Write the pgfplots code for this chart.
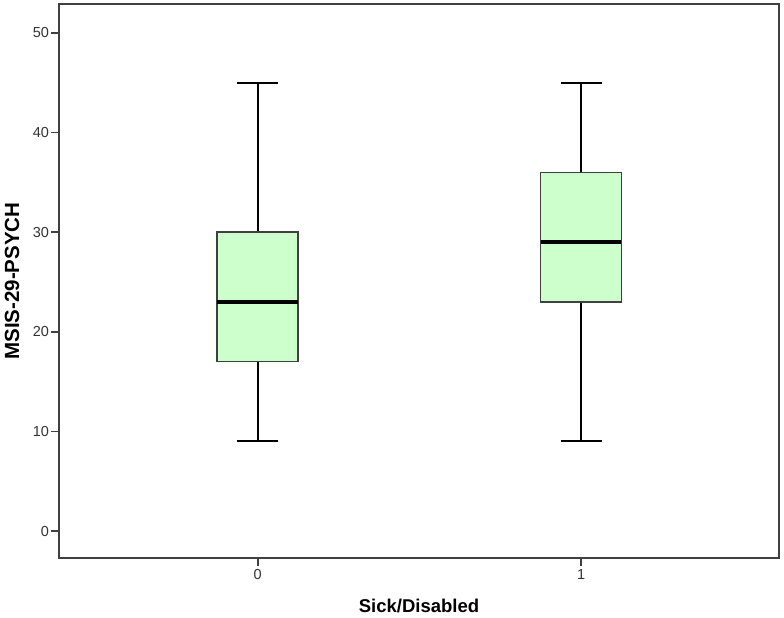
\documentclass[border=0pt]{standalone}
\usepackage{fontspec}
\setmainfont{Liberation Sans}
\usepackage{pgfplots}
\pgfplotsset{compat=1.18}
\definecolor{boxgreen}{HTML}{CCFFCC}
\definecolor{framegray}{HTML}{404040}
\definecolor{ticktext}{HTML}{333333}

% box half width 0.125, whisker cap half width 0.0635
\begin{document}
\begin{tikzpicture}
\useasboundingbox (0,0) rectangle (784pt,618pt);
\begin{axis}[
  at={(59pt,60pt)}, anchor=south west,
  scale only axis, width=720pt, height=554pt,
  xmin=-0.614, xmax=1.612, ymin=-2.7, ymax=52.9,
  xtick={0,1}, ytick={0,10,...,50},
  tick align=outside, tick pos=left,
  major tick length=8pt,
  axis line style={framegray, line width=1.5pt},
  major tick style={framegray, line width=1.8pt},
  tick label style={font=\fontsize{14.5}{16}\selectfont, text=ticktext},
  yticklabel style={xshift=1.5pt},
  /pgf/number format/assume math mode=true,
  xlabel={\textbf{Sick/Disabled}},
  ylabel={\textbf{MSIS-29-PSYCH}},
  xlabel style={font=\fontsize{18.5}{21}\selectfont,
    at={(axis description cs:0.5,-0.0866)}, anchor=center},
  ylabel style={font=\fontsize{20.5}{23}\selectfont,
    at={(axis description cs:-0.0653,0.5)}, anchor=center},
  unbounded coords=jump,
]
% Sick/Disabled = 0: whiskers 9 and 45, quartiles 17 and 30, median 23
\addplot[black, line width=2pt] coordinates {
  (0,30) (0,45) (nan,nan) (-0.0635,45) (0.0635,45) (nan,nan)
  (0,17) (0,9) (nan,nan) (-0.0635,9) (0.0635,9)};
\addplot[draw=framegray, fill=boxgreen, line width=1.5pt] coordinates {
  (-0.125,17) (0.125,17) (0.125,30) (-0.125,30)} -- cycle;
\addplot[black, line width=3.5pt] coordinates {(-0.125,23) (0.125,23)};
% Sick/Disabled = 1: whiskers 9 and 45, quartiles 23 and 36, median 29
\addplot[black, line width=2pt] coordinates {
  (1,36) (1,45) (nan,nan) (0.9365,45) (1.0635,45) (nan,nan)
  (1,23) (1,9) (nan,nan) (0.9365,9) (1.0635,9)};
\addplot[draw=framegray, fill=boxgreen, line width=1.5pt] coordinates {
  (0.875,23) (1.125,23) (1.125,36) (0.875,36)} -- cycle;
\addplot[black, line width=3.5pt] coordinates {(0.875,29) (1.125,29)};
\end{axis}
\end{tikzpicture}
\end{document}
